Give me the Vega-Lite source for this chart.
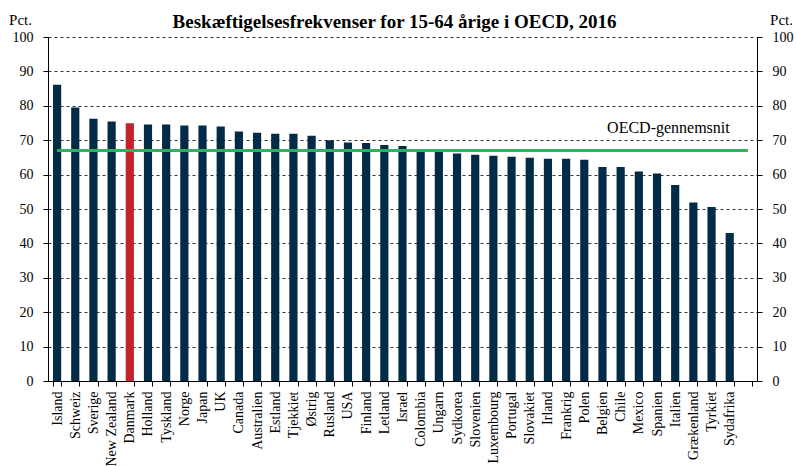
{
  "$schema": "https://vega.github.io/schema/vega-lite/v6.json",
  "width": 709,
  "height": 344,
  "autosize": {"type": "none"},
  "padding": {"left": 48, "top": 37, "right": 39, "bottom": 85},
  "background": "white",
  "title": {
    "text": "Beskæftigelsesfrekvenser for 15-64 årige i OECD, 2016",
    "font": "Liberation Serif",
    "fontSize": 19,
    "fontWeight": "bold",
    "color": "black",
    "anchor": "middle",
    "dx": -8,
    "offset": -20
  },
  "config": {
    "view": {"stroke": null},
    "axis": {"labelFont": "Liberation Serif", "titleFont": "Liberation Serif", "labelColor": "black", "titleColor": "black", "labelFontSize": 14, "domainColor": "black", "tickColor": "black"}
  },
  "data": {
    "values": [
      {"land": "Island", "pct": 86.1, "oecd": 67.0, "dk": "nej"},
      {"land": "Schweiz", "pct": 79.5, "oecd": 67.0, "dk": "nej"},
      {"land": "Sverige", "pct": 76.2, "oecd": 67.0, "dk": "nej"},
      {"land": "New Zealand", "pct": 75.4, "oecd": 67.0, "dk": "nej"},
      {"land": "Danmark", "pct": 74.9, "oecd": 67.0, "dk": "ja"},
      {"land": "Holland", "pct": 74.6, "oecd": 67.0, "dk": "nej"},
      {"land": "Tyskland", "pct": 74.6, "oecd": 67.0, "dk": "nej"},
      {"land": "Norge", "pct": 74.3, "oecd": 67.0, "dk": "nej"},
      {"land": "Japan", "pct": 74.3, "oecd": 67.0, "dk": "nej"},
      {"land": "UK", "pct": 74.0, "oecd": 67.0, "dk": "nej"},
      {"land": "Canada", "pct": 72.5, "oecd": 67.0, "dk": "nej"},
      {"land": "Australien", "pct": 72.2, "oecd": 67.0, "dk": "nej"},
      {"land": "Estland", "pct": 71.9, "oecd": 67.0, "dk": "nej"},
      {"land": "Tjekkiet", "pct": 71.9, "oecd": 67.0, "dk": "nej"},
      {"land": "Østrig", "pct": 71.3, "oecd": 67.0, "dk": "nej"},
      {"land": "Rusland", "pct": 70.0, "oecd": 67.0, "dk": "nej"},
      {"land": "USA", "pct": 69.3, "oecd": 67.0, "dk": "nej"},
      {"land": "Finland", "pct": 69.2, "oecd": 67.0, "dk": "nej"},
      {"land": "Letland", "pct": 68.6, "oecd": 67.0, "dk": "nej"},
      {"land": "Israel", "pct": 68.3, "oecd": 67.0, "dk": "nej"},
      {"land": "Colombia", "pct": 67.1, "oecd": 67.0, "dk": "nej"},
      {"land": "Ungarn", "pct": 66.8, "oecd": 67.0, "dk": "nej"},
      {"land": "Sydkorea", "pct": 66.1, "oecd": 67.0, "dk": "nej"},
      {"land": "Slovenien", "pct": 65.8, "oecd": 67.0, "dk": "nej"},
      {"land": "Luxembourg", "pct": 65.5, "oecd": 67.0, "dk": "nej"},
      {"land": "Portugal", "pct": 65.2, "oecd": 67.0, "dk": "nej"},
      {"land": "Slovakiet", "pct": 64.9, "oecd": 67.0, "dk": "nej"},
      {"land": "Irland", "pct": 64.6, "oecd": 67.0, "dk": "nej"},
      {"land": "Frankrig", "pct": 64.6, "oecd": 67.0, "dk": "nej"},
      {"land": "Polen", "pct": 64.3, "oecd": 67.0, "dk": "nej"},
      {"land": "Belgien", "pct": 62.2, "oecd": 67.0, "dk": "nej"},
      {"land": "Chile", "pct": 62.2, "oecd": 67.0, "dk": "nej"},
      {"land": "Mexico", "pct": 60.9, "oecd": 67.0, "dk": "nej"},
      {"land": "Spanien", "pct": 60.3, "oecd": 67.0, "dk": "nej"},
      {"land": "Italien", "pct": 57.0, "oecd": 67.0, "dk": "nej"},
      {"land": "Grækenland", "pct": 51.9, "oecd": 67.0, "dk": "nej"},
      {"land": "Tyrkiet", "pct": 50.6, "oecd": 67.0, "dk": "nej"},
      {"land": "Sydafrika", "pct": 43.0, "oecd": 67.0, "dk": "nej"},
      {"land": " ", "pct": null, "oecd": 67.0, "dk": "nej"}
    ]
  },
  "layer": [
    {
      "mark": {"type": "bar"},
      "encoding": {
        "x": {
          "field": "land", "type": "nominal", "sort": null,
          "scale": {"paddingInner": 0.55, "paddingOuter": 0.275},
          "axis": {"title": null, "labelAngle": -90, "labelFontSize": 14, "tickBand": "extent", "tickSize": 5, "labelPadding": 5, "domainWidth": 1, "labelLimit": 200}
        },
        "y": {
          "field": "pct", "type": "quantitative",
          "scale": {"domain": [0, 100], "nice": false},
          "axis": {
            "orient": "left", "values": [0, 10, 20, 30, 40, 50, 60, 70, 80, 90, 100],
            "title": "Pct.", "titleAngle": 0, "titleFontSize": 15, "titleFontWeight": "normal",
            "titleX": -28, "titleY": -10, "titleAlign": "center", "titleBaseline": "bottom",
            "grid": true, "gridColor": "black", "gridDash": [3, 3], "gridWidth": 0.8,
            "tickSize": 5, "labelPadding": 10
          }
        },
        "color": {
          "field": "dk", "type": "nominal",
          "scale": {"domain": ["nej", "ja"], "range": ["#022B45", "#C4222C"]},
          "legend": null
        }
      }
    },
    {
      "mark": {"type": "line", "color": "#2DB35D", "strokeWidth": 3},
      "encoding": {
        "x": {"field": "land", "type": "nominal", "sort": null},
        "y": {
          "field": "oecd", "type": "quantitative",
          "scale": {"domain": [0, 100], "nice": false},
          "axis": {
            "orient": "right", "values": [0, 10, 20, 30, 40, 50, 60, 70, 80, 90, 100],
            "title": "Pct.", "titleAngle": 0, "titleFontSize": 15, "titleFontWeight": "normal",
            "titleX": 24, "titleY": -10, "titleAlign": "center", "titleBaseline": "bottom",
            "grid": false, "tickSize": 5, "labelPadding": 10
          }
        }
      }
    },
    {
      "transform": [{"filter": "datum.land === 'Sydafrika'"}],
      "mark": {"type": "text", "font": "Liberation Serif", "fontSize": 16, "align": "right", "baseline": "alphabetic", "dy": -18, "color": "black"},
      "encoding": {
        "x": {"field": "land", "type": "nominal", "sort": null},
        "y": {"field": "oecd", "type": "quantitative", "axis": null},
        "text": {"value": "OECD-gennemsnit"}
      }
    }
  ],
  "resolve": {"axis": {"y": "independent"}}
}
